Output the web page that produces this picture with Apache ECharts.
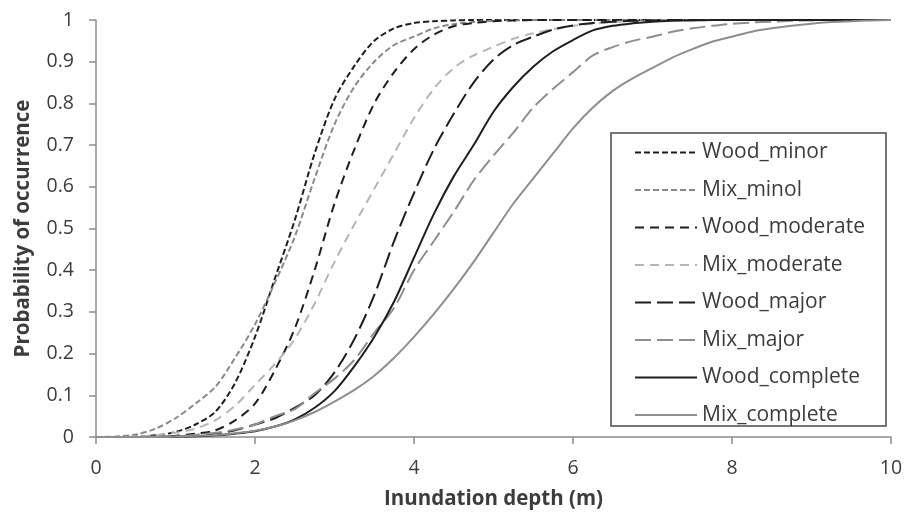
<!DOCTYPE html>
<html>
<head>
<meta charset="utf-8">
<script src="https://cdn.jsdelivr.net/npm/echarts@6/dist/echarts.min.js"></script>
<style>
html,body{margin:0;padding:0;background:#fff;}
#c{width:907px;height:514px;}
</style>
</head>
<body>
<div id="c"></div>
<script>
// Inundation depth (m)
const depth = [0,0.25,0.5,0.75,1,1.25,1.5,1.75,2,2.25,2.5,2.75,3,3.25,3.5,3.75,4,4.25,4.5,4.75,5,5.25,5.5,5.75,6,6.25,6.5,6.75,7,7.25,7.5,7.75,8,8.25,8.5,8.75,9,9.25,9.5,9.75,10];

const woodMinor    = [0,0,0.001,0.004,0.012,0.03,0.06,0.13,0.24,0.38,0.52,0.68,0.81,0.89,0.95,0.98,0.993,0.997,0.999,1,1,1,1,1,1,1,1,1,1,1,1,1,1,1,1,1,1,1,1,1,1];
const mixMinol     = [0,0.001,0.006,0.02,0.045,0.08,0.12,0.19,0.27,0.37,0.48,0.62,0.75,0.84,0.9,0.94,0.96,0.98,0.99,0.995,0.998,0.999,1,1,1,1,1,1,1,1,1,1,1,1,1,1,1,1,1,1,1];
const woodModerate = [0,0,0,0.001,0.003,0.008,0.016,0.04,0.08,0.16,0.26,0.40,0.56,0.69,0.80,0.875,0.93,0.965,0.985,0.993,0.997,0.999,1,1,1,1,1,1,1,1,1,1,1,1,1,1,1,1,1,1,1];
const mixModerate  = [0,0,0.001,0.004,0.01,0.02,0.04,0.075,0.125,0.175,0.235,0.32,0.42,0.51,0.595,0.68,0.765,0.835,0.885,0.915,0.936,0.955,0.968,0.978,0.986,0.991,0.995,0.997,0.999,1,1,1,1,1,1,1,1,1,1,1,1];
const woodMajor    = [0,0,0,0,0.001,0.003,0.008,0.016,0.03,0.045,0.07,0.10,0.155,0.235,0.34,0.47,0.585,0.69,0.775,0.85,0.905,0.94,0.96,0.977,0.987,0.993,0.996,0.998,0.999,1,1,1,1,1,1,1,1,1,1,1,1];
const mixMajor     = [0,0,0,0.001,0.002,0.005,0.01,0.018,0.03,0.05,0.067,0.105,0.14,0.185,0.25,0.31,0.40,0.47,0.54,0.615,0.675,0.73,0.79,0.835,0.875,0.915,0.935,0.95,0.96,0.972,0.98,0.986,0.991,0.994,0.996,0.998,0.999,1,1,1,1];
const woodComplete = [0,0,0,0,0.001,0.002,0.004,0.008,0.014,0.025,0.042,0.07,0.11,0.17,0.24,0.325,0.43,0.535,0.625,0.70,0.78,0.84,0.888,0.925,0.952,0.975,0.986,0.992,0.996,0.998,0.999,1,1,1,1,1,1,1,1,1,1];
const mixComplete  = [0,0,0,0,0.001,0.003,0.005,0.009,0.015,0.025,0.04,0.06,0.085,0.113,0.147,0.19,0.24,0.295,0.355,0.42,0.49,0.56,0.62,0.68,0.74,0.79,0.83,0.86,0.885,0.91,0.93,0.948,0.96,0.972,0.98,0.986,0.991,0.995,0.997,0.999,1];

const seriesNames = ['Wood_minor','Mix_minol','Wood_moderate','Mix_moderate','Wood_major','Mix_major','Wood_complete','Mix_complete'];
const seriesValues = [woodMinor,mixMinol,woodModerate,mixModerate,woodMajor,mixMajor,woodComplete,mixComplete];
const xTicks = [0,2,4,6,8,10];

const styles = [
  {color:'#1e1e1e', type:[6,3]},
  {color:'#8a8a8a', type:[6,3]},
  {color:'#1e1e1e', type:[9,6]},
  {color:'#b5b5b5', type:[9,6]},
  {color:'#1e1e1e', type:[16,6]},
  {color:'#8e8e8e', type:[16,6]},
  {color:'#1e1e1e', type:'solid'},
  {color:'#8e8e8e', type:'solid'}
];

const FONT = 'Open Sans';
const TXT = '#3c3c3c';

const chart = echarts.init(document.getElementById('c'), null, {renderer:'canvas'});
chart.setOption({
  animation:false,
  backgroundColor:'#fff',
  grid:{left:96, right:16, top:20, bottom:77, containLabel:false, outerBoundsMode:'none'},
  xAxis:{
    type:'value', min:0, max:10, interval:2,
    name:'Inundation depth (m)', nameLocation:'middle', nameGap:52,
    nameTextStyle:{fontFamily:FONT, fontWeight:'bold', fontSize:20.5, color:TXT},
    axisLine:{show:true, lineStyle:{color:'#8c8c8c', width:1.5}},
    axisTick:{show:true, length:7, lineStyle:{color:'#8c8c8c', width:1.5}},
    axisLabel:{fontFamily:FONT, fontSize:19.5, color:TXT, margin:21,
      formatter:function(v){ return xTicks.indexOf(v) >= 0 ? String(v) : ''; }},
    splitLine:{show:false}
  },
  yAxis:{
    type:'value', min:0, max:1, interval:0.1,
    name:'Probability of occurrence', nameLocation:'middle', nameGap:62, nameRotate:90,
    nameTextStyle:{fontFamily:FONT, fontWeight:'bold', fontSize:20.5, color:TXT},
    axisLine:{show:true, lineStyle:{color:'#8c8c8c', width:1.5}},
    axisTick:{show:true, length:7, lineStyle:{color:'#8c8c8c', width:1.5}},
    axisLabel:{fontFamily:FONT, fontSize:19.5, color:TXT, margin:22,
      formatter:function(v){ return String(Math.round(v*10)/10); }},
    splitLine:{show:false}
  },
  legend:{
    orient:'vertical', left:629, top:137,
    itemWidth:62, itemHeight:20, itemGap:16.5,
    itemStyle:{color:'rgba(0,0,0,0)', borderColor:'rgba(0,0,0,0)', borderWidth:0},
    textStyle:{fontFamily:FONT, fontSize:21, color:TXT},
    data:seriesNames
  },
  graphic:[{
    type:'rect', shape:{x:611, y:133, width:275, height:293},
    style:{fill:'#fff', stroke:'#4a4a4a', lineWidth:1.5}, z:-1, silent:true
  }],
  series: seriesNames.map(function(n,i){
    return {
      name:n, type:'line', symbol:'none', showSymbol:false,
      smooth:0.3,
      data: depth.map(function(x,j){ return [x, seriesValues[i][j]]; }),
      lineStyle:{color:styles[i].color, type:styles[i].type, width:2},
      itemStyle:{color:styles[i].color},
      z: 2
    };
  })
});
</script>
</body>
</html>
